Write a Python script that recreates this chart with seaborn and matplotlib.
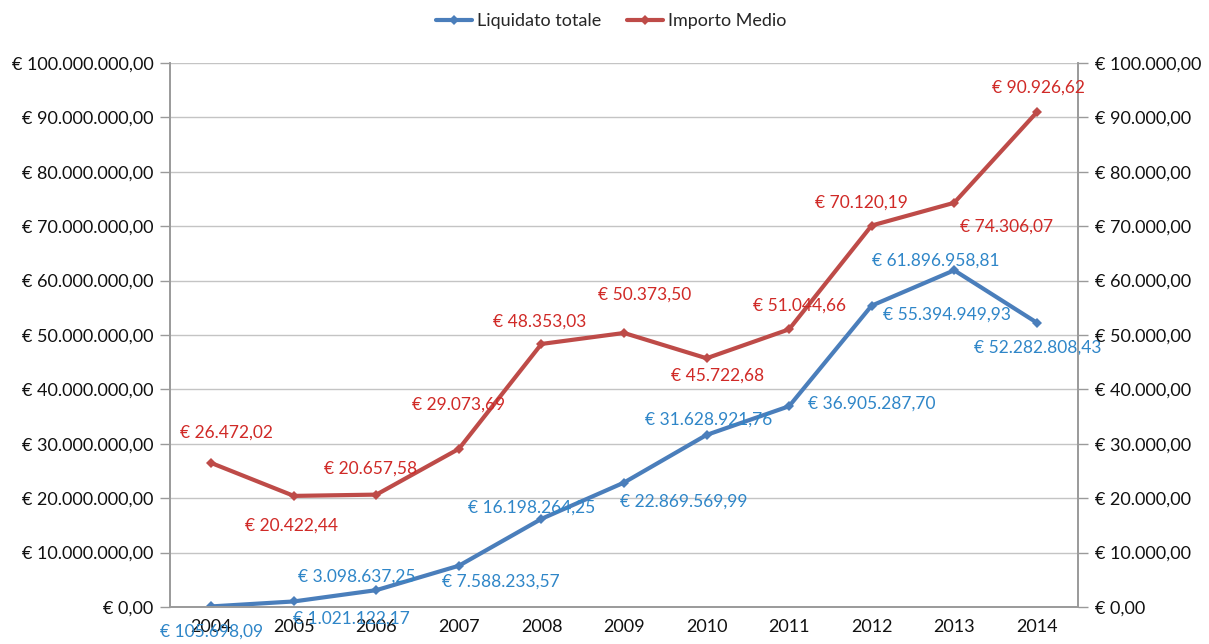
import matplotlib
matplotlib.use("Agg")
import matplotlib.pyplot as plt
import seaborn as sns
import pandas as pd
import numpy as np
from matplotlib.ticker import FixedLocator, FuncFormatter
from matplotlib.lines import Line2D

years = ["2004", "2005", "2006", "2007", "2008", "2009", "2010", "2011", "2012", "2013", "2014"]
liquidato_totale = [105698.09, 1021122.17, 3098637.25, 7588233.57, 16198264.25, 22869569.99,
                    31628921.76, 36905287.70, 55394949.93, 61896958.81, 52282808.43]
importo_medio = [26472.02, 20422.44, 20657.58, 29073.69, 48353.03, 50373.50,
                 45722.68, 51044.66, 70120.19, 74306.07, 90926.62]
left_ticks = [0, 10e6, 20e6, 30e6, 40e6, 50e6, 60e6, 70e6, 80e6, 90e6, 100e6]
right_ticks = [0, 10e3, 20e3, 30e3, 40e3, 50e3, 60e3, 70e3, 80e3, 90e3, 100e3]

# label offsets in pixels (dx, dy) relative to each point
blue_off = [(0, -25), (58, -17), (-20, 14), (42, -16), (-10, 11), (60, -19),
            (2, 15), (83, 3), (75, -9), (-18, 10), (1, -25)]
red_off = [(15, 30), (-2, -30), (-6, 26), (0, 44), (-2, 22), (21, 38),
           (11, -17), (10, 24), (-10, 23), (52, -24), (2, 25)]

def euro(v):
    s = f"{v:,.2f}".replace(",", "X").replace(".", ",").replace("X", ".")
    return "€ " + s

sns.set_style("white")
plt.rcParams['font.family'] = ['Lato', 'DejaVu Sans']

BLUE = "#4A7EBB"
RED = "#BE4B48"
BLUE_T = "#2F86C8"
RED_T = "#D02A27"

df = pd.DataFrame({"x": np.arange(len(years)), "liq": liquidato_totale, "imp": importo_medio})

fig = plt.figure(figsize=(12.09, 6.44), dpi=100)
ax = fig.add_axes([170/1209, 37/644, 908/1209, 544/644])
ax2 = ax.twinx()

sns.lineplot(data=df, x="x", y="liq", ax=ax, color=BLUE, linewidth=3, marker="D",
             markersize=5, markeredgewidth=0, markerfacecolor=BLUE)
sns.lineplot(data=df, x="x", y="imp", ax=ax2, color=RED, linewidth=3, marker="D",
             markersize=5, markeredgewidth=0, markerfacecolor=RED)

ax.set_xlim(-0.5, len(years) - 0.5)
ax.set_ylim(0, 100e6)
ax2.set_ylim(0, 100e3)
ax.set_yticks(left_ticks)
ax2.set_yticks(right_ticks)
ax.yaxis.set_major_formatter(FuncFormatter(lambda v, p: euro(v)))
ax2.yaxis.set_major_formatter(FuncFormatter(lambda v, p: euro(v)))

# x ticks: boundaries (marks) and centers (labels)
ax.xaxis.set_major_locator(FixedLocator(np.arange(-0.5, len(years), 1.0)))
ax.xaxis.set_major_formatter(FuncFormatter(lambda v, p: ""))
ax.xaxis.set_minor_locator(FixedLocator(np.arange(len(years))))
ax.set_xticklabels(years, minor=True)
ax.tick_params(axis="x", which="major", length=6, width=1, color="#9a9a9a", direction="out")
ax.tick_params(axis="x", which="minor", length=0, labelsize=13, labelcolor="#111111", pad=9)
ax.tick_params(axis="y", length=7, width=1, color="#9a9a9a", direction="out", labelsize=13,
               labelcolor="#111111", pad=5)
ax2.tick_params(axis="y", length=7, width=1, color="#9a9a9a", direction="out", labelsize=13,
                labelcolor="#111111", pad=5)

ax.grid(axis="y", color="#c4c4c4", linewidth=1)
ax.set_xlabel("")
ax.set_ylabel("")
ax2.set_ylabel("")
for a in (ax, ax2):
    a.spines["top"].set_visible(False)
    for s in ("left", "right", "bottom"):
        a.spines[s].set_color("#9a9a9a")
        a.spines[s].set_linewidth(1.2)

for i, v in enumerate(liquidato_totale):
    ax.annotate(euro(v), (i, v), xytext=blue_off[i], textcoords="offset pixels",
                ha="center", va="center", color=BLUE_T, fontsize=12.5, annotation_clip=False)
for i, v in enumerate(importo_medio):
    ax2.annotate(euro(v), (i, v), xytext=red_off[i], textcoords="offset pixels",
                 ha="center", va="center", color=RED_T, fontsize=12.5, annotation_clip=False)

handles = [Line2D([], [], color=BLUE, linewidth=3, marker="D", markersize=5, markeredgewidth=0),
           Line2D([], [], color=RED, linewidth=3, marker="D", markersize=5, markeredgewidth=0)]
fig.legend(handles, ["Liquidato totale", "Importo Medio"], loc="center",
           bbox_to_anchor=(611/1209, 1 - 21/644), ncol=2, frameon=False, fontsize=13,
           handlelength=2.0, columnspacing=1.4, handletextpad=0.3)

fig.savefig("out.png", dpi=100)
